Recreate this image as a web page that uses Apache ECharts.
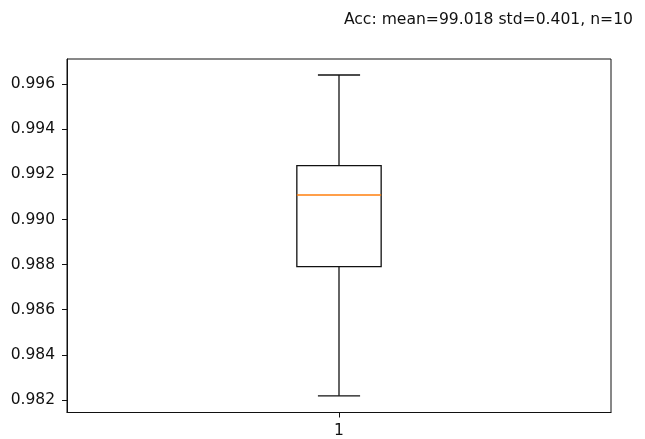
<!DOCTYPE html>
<html>
<head>
<meta charset="utf-8">
<script src="https://cdn.jsdelivr.net/npm/echarts@6/dist/echarts.min.js"></script>
<style>
html,body{margin:0;padding:0;background:#fff;}
#chart{width:645px;height:439px;}
</style>
</head>
<body>
<div id="chart"></div>
<script>
const categories = ['1'];
const whiskerLow = [0.98218];
const q1 = [0.98791];
const median = [0.99109];
const q3 = [0.99239];
const whiskerHigh = [0.99641];
const yTicks = [0.982, 0.984, 0.986, 0.988, 0.990, 0.992, 0.994, 0.996];
const titleText = 'Acc: mean=99.018 std=0.401, n=10';

const chart = echarts.init(document.getElementById('chart'), null, {renderer: 'canvas'});
const boxData = categories.map((c, i) => [i, whiskerLow[i], q1[i], median[i], q3[i], whiskerHigh[i]]);
const FONT = 'DejaVu Sans';
chart.setOption({
  animation: false,
  backgroundColor: '#fff',
  title: {
    text: titleText,
    right: 7,
    top: 7,
    textStyle: {fontFamily: FONT, fontSize: 15.6, fontWeight: 'normal', color: '#111'}
  },
  grid: {left: 67, right: 34, top: 59, bottom: 26.5, show: true, borderColor: '#111', borderWidth: 1, backgroundColor: 'transparent'},
  xAxis: {
    type: 'category',
    data: categories,
    boundaryGap: true,
    axisLine: {show: true, lineStyle: {color: '#111', width: 1}},
    axisTick: {show: true, alignWithLabel: true, length: 5, lineStyle: {color: '#111'}},
    axisLabel: {fontFamily: FONT, fontSize: 15.5, color: '#111', margin: 10},
    splitLine: {show: false}
  },
  yAxis: {
    type: 'value',
    min: 0.98144,
    max: 0.99712,
    axisLine: {show: true, lineStyle: {color: '#111', width: 1}},
    axisTick: {show: true, length: 5, customValues: yTicks, lineStyle: {color: '#111'}},
    axisLabel: {fontFamily: FONT, fontSize: 15.5, color: '#111', margin: 12, customValues: yTicks,
      formatter: v => Number(v).toFixed(3)},
    splitLine: {show: false}
  },
  series: [{
    type: 'custom',
    data: boxData,
    encode: {x: 0, y: [1, 2, 3, 4, 5]},
    renderItem: function (params, api) {
      const xi = api.value(0);
      const bandW = api.size([1, 0])[0];
      const bw = bandW * 0.155;
      const cw = bw / 2;
      const pLo = api.coord([xi, api.value(1)]);
      const pQ1 = api.coord([xi, api.value(2)]);
      const pMed = api.coord([xi, api.value(3)]);
      const pQ3 = api.coord([xi, api.value(4)]);
      const pHi = api.coord([xi, api.value(5)]);
      const cx = pMed[0];
      const black = {stroke: '#111', lineWidth: 1.3, fill: null};
      return {
        type: 'group',
        children: [
          {type: 'rect', shape: {x: cx - bw / 2, y: pQ3[1], width: bw, height: pQ1[1] - pQ3[1]}, style: {stroke: '#111', lineWidth: 1.3, fill: 'transparent'}},
          {type: 'line', shape: {x1: cx, y1: pQ3[1], x2: cx, y2: pHi[1]}, style: black},
          {type: 'line', shape: {x1: cx, y1: pQ1[1], x2: cx, y2: pLo[1]}, style: black},
          {type: 'line', shape: {x1: cx - cw / 2, y1: pHi[1], x2: cx + cw / 2, y2: pHi[1]}, style: black},
          {type: 'line', shape: {x1: cx - cw / 2, y1: pLo[1], x2: cx + cw / 2, y2: pLo[1]}, style: black},
          {type: 'line', shape: {x1: cx - bw / 2, y1: pMed[1], x2: cx + bw / 2, y2: pMed[1]}, style: {stroke: '#ff7f0e', lineWidth: 1.5}}
        ]
      };
    }
  }]
});
</script>
</body>
</html>
